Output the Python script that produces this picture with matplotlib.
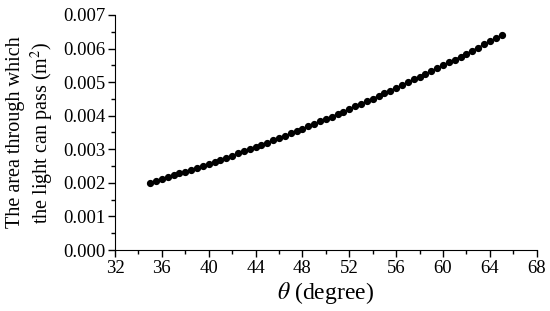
import matplotlib
matplotlib.use("Agg")
import matplotlib.pyplot as plt
from matplotlib.ticker import MultipleLocator

plt.rcParams["font.family"] = ["Liberation Serif", "DejaVu Serif"]
plt.rcParams["mathtext.fontset"] = "stix"

theta = [35.0, 35.5, 36.0, 36.5, 37.0, 37.5, 38.0, 38.5, 39.0, 39.5,
         40.0, 40.5, 41.0, 41.5, 42.0, 42.5, 43.0, 43.5, 44.0, 44.5,
         45.0, 45.5, 46.0, 46.5, 47.0, 47.5, 48.0, 48.5, 49.0, 49.5,
         50.0, 50.5, 51.0, 51.5, 52.0, 52.5, 53.0, 53.5, 54.0, 54.5,
         55.0, 55.5, 56.0, 56.5, 57.0, 57.5, 58.0, 58.5, 59.0, 59.5,
         60.0, 60.5, 61.0, 61.5, 62.0, 62.5, 63.0, 63.5, 64.0, 64.5,
         65.0]
area = [0.00200, 0.00205, 0.00211, 0.00216, 0.00222, 0.00228, 0.00233, 0.00239, 0.00245, 0.00251,
        0.00257, 0.00263, 0.00269, 0.00275, 0.00281, 0.00288, 0.00294, 0.00300, 0.00307, 0.00313,
        0.00320, 0.00327, 0.00333, 0.00340, 0.00347, 0.00354, 0.00361, 0.00368, 0.00375, 0.00383,
        0.00390, 0.00397, 0.00405, 0.00412, 0.00420, 0.00428, 0.00435, 0.00443, 0.00451, 0.00459,
        0.00467, 0.00475, 0.00483, 0.00491, 0.00499, 0.00508, 0.00516, 0.00524, 0.00533, 0.00541,
        0.00550, 0.00559, 0.00567, 0.00576, 0.00585, 0.00594, 0.00603, 0.00612, 0.00621, 0.00631,
        0.00640]

fig = plt.figure(figsize=(5.5, 3.11), dpi=100)
ax = fig.add_axes([0.209, 0.196, 0.767, 0.756])

ax.plot(theta, area, "o-", color="black", markersize=4.2, linewidth=1)

ax.set_xlim(32, 68)
ax.set_ylim(0, 0.007)
ax.xaxis.set_major_locator(MultipleLocator(4))
ax.xaxis.set_minor_locator(MultipleLocator(2))
ax.yaxis.set_major_locator(MultipleLocator(0.001))
ax.yaxis.set_minor_locator(MultipleLocator(0.0005))
ax.yaxis.set_major_formatter(matplotlib.ticker.FormatStrFormatter("%.3f"))

ax.spines["top"].set_visible(False)
ax.spines["right"].set_visible(False)
ax.tick_params(which="major", direction="out", length=5, width=1, labelsize=13.5, pad=2)
ax.tick_params(which="minor", direction="out", length=3, width=1)

ax.set_xlabel(r"$\theta$ (degree)", fontsize=17, labelpad=2)
ax.set_ylabel("The area through which\nthe light can pass (m$^2$)", fontsize=14.5, labelpad=5)

fig.savefig("out.png", dpi=100)
